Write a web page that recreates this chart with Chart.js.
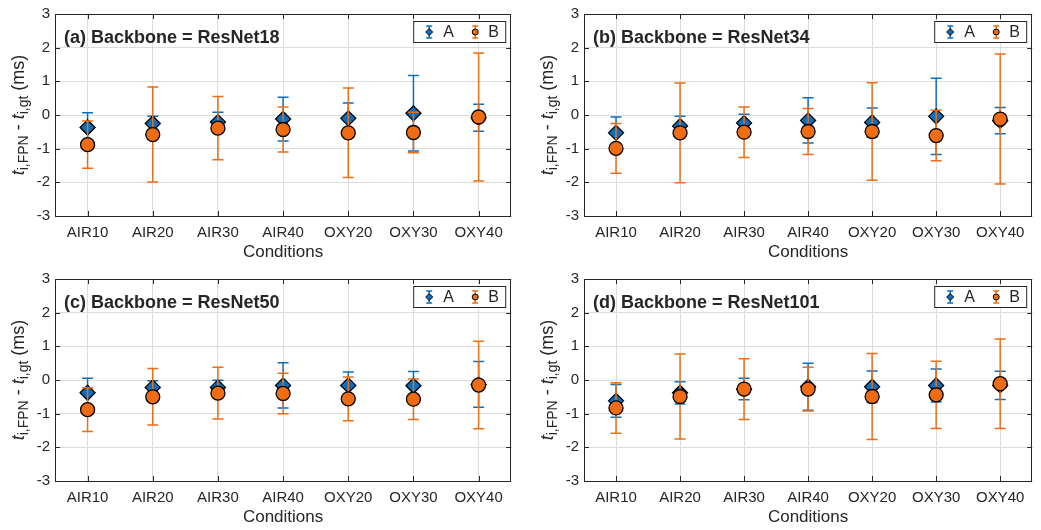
<!DOCTYPE html>
<html>
<head>
<meta charset="utf-8">
<script src="https://cdn.jsdelivr.net/npm/chart.js@4.4.0/dist/chart.umd.min.js"></script>
<style>
  html, body { margin: 0; padding: 0; background: #fff; }
  #wrap { position: relative; width: 1041px; height: 530px; overflow: hidden; }
  #wrap canvas { position: absolute; }
</style>
</head>
<body>
<div id="wrap">
  <canvas id="c18" width="520" height="265" style="left:0;top:0"></canvas>
  <canvas id="c34" width="521" height="265" style="left:520px;top:0"></canvas>
  <canvas id="c50" width="520" height="265" style="left:0;top:265px"></canvas>
  <canvas id="c101" width="521" height="265" style="left:520px;top:265px"></canvas>
</div>
<script>
// categories and axis ticks
const conditions = ['AIR10', 'AIR20', 'AIR30', 'AIR40', 'OXY20', 'OXY30', 'OXY40'];
const yTicks = [-3, -2, -1, 0, 1, 2, 3];

// means and half-widths of the error bars (ms)
const r18A    = [-0.37, -0.25, -0.21, -0.12, -0.10, 0.05, -0.08];
const r18Aerr = [0.44, 0.21, 0.29, 0.65, 0.46, 1.12, 0.40];
const r18B    = [-0.88, -0.58, -0.39, -0.43, -0.53, -0.52, -0.06];
const r18Berr = [0.70, 1.41, 0.94, 0.67, 1.33, 0.60, 1.90];

const r34A    = [-0.53, -0.33, -0.24, -0.16, -0.22, -0.04, -0.17];
const r34Aerr = [0.47, 0.29, 0.26, 0.67, 0.43, 1.13, 0.39];
const r34B    = [-0.99, -0.53, -0.51, -0.49, -0.49, -0.61, -0.12];
const r34Berr = [0.74, 1.48, 0.75, 0.68, 1.45, 0.75, 1.93];

const r50A    = [-0.38, -0.22, -0.22, -0.16, -0.16, -0.17, -0.13];
const r50Aerr = [0.43, 0.20, 0.21, 0.67, 0.40, 0.42, 0.68];
const r50B    = [-0.88, -0.50, -0.39, -0.40, -0.56, -0.57, -0.15];
const r50Berr = [0.65, 0.84, 0.77, 0.60, 0.65, 0.60, 1.30];

const r101A    = [-0.62, -0.38, -0.27, -0.20, -0.20, -0.16, -0.16];
const r101Aerr = [0.49, 0.33, 0.32, 0.70, 0.47, 0.49, 0.42];
const r101B    = [-0.83, -0.49, -0.27, -0.27, -0.49, -0.44, -0.11];
const r101Berr = [0.75, 1.26, 0.90, 0.65, 1.28, 1.00, 1.33];

const BLUE = '#0A6FBF', ORANGE = '#EE6C14', INK = '#262626';
const FONT = "'Liberation Sans', Arial, Helvetica, sans-serif";

// whiskers are drawn just before each dataset's markers, so B's bars sit over A's markers
const errorBars = {
  id: 'errorBars',
  beforeDatasetDraw(chart, args) {
    const ds = chart.data.datasets[args.index];
    if (!ds.err) return;
    const ctx = chart.ctx, y = chart.scales.y;
    ctx.save();
    ctx.strokeStyle = ds.barColor;
    ctx.lineWidth = 1.5;
    args.meta.data.forEach((pt, i) => {
      const v = ds.data[i], e = ds.err[i];
      const top = y.getPixelForValue(v + e), bot = y.getPixelForValue(v - e);
      ctx.beginPath();
      ctx.moveTo(pt.x, top); ctx.lineTo(pt.x, bot);
      ctx.moveTo(pt.x - 5.5, top); ctx.lineTo(pt.x + 5.5, top);
      ctx.moveTo(pt.x - 5.5, bot); ctx.lineTo(pt.x + 5.5, bot);
      ctx.stroke();
    });
    ctx.restore();
  }
};

function legendIcon(ctx, x, cy, color, shape) {
  ctx.strokeStyle = color; ctx.lineWidth = 1.5;
  ctx.beginPath();
  ctx.moveTo(x, cy - 6); ctx.lineTo(x, cy + 6);
  ctx.moveTo(x - 3, cy - 6); ctx.lineTo(x + 3, cy - 6);
  ctx.moveTo(x - 3, cy + 6); ctx.lineTo(x + 3, cy + 6);
  ctx.stroke();
  ctx.fillStyle = color; ctx.strokeStyle = '#000'; ctx.lineWidth = 1;
  ctx.beginPath();
  if (shape === 'd') {
    ctx.moveTo(x, cy - 3.5); ctx.lineTo(x + 3.5, cy); ctx.lineTo(x, cy + 3.5); ctx.lineTo(x - 3.5, cy); ctx.closePath();
  } else {
    ctx.arc(x, cy, 3, 0, Math.PI * 2);
  }
  ctx.fill(); ctx.stroke();
}

// frame, inward ticks, panel title, y label with subscripts, x title and legend box
const decor = {
  id: 'decor',
  afterDraw(chart) {
    const ctx = chart.ctx, a = chart.chartArea;
    const xs = chart.scales.x, ys = chart.scales.y;
    ctx.save();
    ctx.strokeStyle = INK; ctx.lineWidth = 1;
    ctx.beginPath();
    xs.ticks.forEach((t, i) => {
      const px = Math.round(xs.getPixelForTick(i)) + 0.5;
      ctx.moveTo(px, a.bottom); ctx.lineTo(px, a.bottom - 5);
      ctx.moveTo(px, a.top); ctx.lineTo(px, a.top + 5);
    });
    ys.ticks.forEach((t, i) => {
      const py = Math.round(ys.getPixelForTick(i)) + 0.5;
      ctx.moveTo(a.left, py); ctx.lineTo(a.left + 5, py);
      ctx.moveTo(a.right, py); ctx.lineTo(a.right - 5, py);
    });
    ctx.stroke();
    ctx.strokeRect(Math.round(a.left) + 0.5, Math.round(a.top) + 0.5,
                   Math.round(a.right - a.left) - 1, Math.round(a.bottom - a.top));

    // panel title
    ctx.fillStyle = INK;
    ctx.font = 'bold 18px ' + FONT;
    ctx.textBaseline = 'middle'; ctx.textAlign = 'left';
    ctx.fillText(chart.options.panelTitle, a.left + 9, a.top + 24);

    // x title
    ctx.font = '17px ' + FONT; ctx.textAlign = 'center';
    ctx.fillText('Conditions', (a.left + a.right) / 2, a.bottom + 36);

    // y title: t_{i,FPN} - t_{i,gt} (ms)
    const parts = [
      ['t', 'italic 18px ', 0], ['i,FPN', '14px ', 4], [' - ', '18px ', 0],
      ['t', 'italic 18px ', 0], ['i,gt', '14px ', 4], [' (ms)', '18px ', 0]
    ];
    let total = 0;
    parts.forEach(p => { ctx.font = p[1] + FONT; total += ctx.measureText(p[0]).width; });
    ctx.translate(a.left - 37, (a.top + a.bottom) / 2);
    ctx.rotate(-Math.PI / 2);
    ctx.textAlign = 'left'; ctx.textBaseline = 'alphabetic';
    let cx = -total / 2;
    parts.forEach(p => {
      ctx.font = p[1] + FONT;
      ctx.fillText(p[0], cx, 6 + p[2]);
      cx += ctx.measureText(p[0]).width;
    });
    ctx.setTransform(1, 0, 0, 1, 0, 0);

    // legend
    const bx = a.right - 98, by = a.top + 7, bw = 92, bh = 21;
    ctx.fillStyle = '#fff'; ctx.fillRect(bx, by, bw, bh);
    ctx.strokeStyle = INK; ctx.lineWidth = 1;
    ctx.strokeRect(bx + 0.5, by + 0.5, bw, bh);
    const cy = by + bh / 2 + 0.5;
    legendIcon(ctx, bx + 16, cy, BLUE, 'd');
    legendIcon(ctx, bx + 62, cy, ORANGE, 'o');
    ctx.fillStyle = INK; ctx.font = '16px ' + FONT;
    ctx.textAlign = 'left'; ctx.textBaseline = 'middle';
    ctx.fillText('A', bx + 30, cy + 1);
    ctx.fillText('B', bx + 75, cy + 1);
    ctx.restore();
  }
};

function makePanel(id, title, a, aErr, b, bErr, yWidth, padRight) {
  return new Chart(document.getElementById(id), {
    type: 'line',
    data: {
      labels: conditions,
      datasets: [
        { label: 'A', data: a, err: aErr, barColor: BLUE, order: 2, showLine: false,
          pointStyle: 'rectRot', pointRadius: 7.5, pointBackgroundColor: BLUE,
          pointBorderColor: '#000', pointBorderWidth: 1.3 },
        { label: 'B', data: b, err: bErr, barColor: ORANGE, order: 1, showLine: false,
          pointStyle: 'circle', pointRadius: 7, pointBackgroundColor: ORANGE,
          pointBorderColor: '#000', pointBorderWidth: 1.3 }
      ]
    },
    options: {
      panelTitle: title,
      responsive: false,
      animation: false,
      layout: { padding: { top: 10, right: padRight, left: 0, bottom: 0 } },
      plugins: { legend: { display: false }, tooltip: { enabled: false } },
      scales: {
        x: {
          type: 'category', offset: true,
          grid: { offset: false, color: '#dcdcdc', drawTicks: false },
          border: { display: false },
          ticks: { color: INK, font: { family: FONT, size: 15 }, padding: 8, maxRotation: 0, autoSkip: false },
          afterFit(s) { s.height = 49; }
        },
        y: {
          min: yTicks[0], max: yTicks[yTicks.length - 1],
          afterBuildTicks(s) { s.ticks = yTicks.map(v => ({ value: v })); },
          grid: { color: '#dcdcdc', drawTicks: false },
          border: { display: false },
          ticks: { color: INK, font: { family: FONT, size: 15 }, padding: 5 },
          afterFit(s) { s.width = yWidth; }
        }
      }
    },
    plugins: [errorBars, decor]
  });
}

makePanel('c18', '(a) Backbone = ResNet18', r18A, r18Aerr, r18B, r18Berr, 55, 5);
makePanel('c34', '(b) Backbone = ResNet34', r34A, r34Aerr, r34B, r34Berr, 64, 1);
makePanel('c50', '(c) Backbone = ResNet50', r50A, r50Aerr, r50B, r50Berr, 55, 5);
makePanel('c101', '(d) Backbone = ResNet101', r101A, r101Aerr, r101B, r101Berr, 64, 1);
</script>
</body>
</html>
